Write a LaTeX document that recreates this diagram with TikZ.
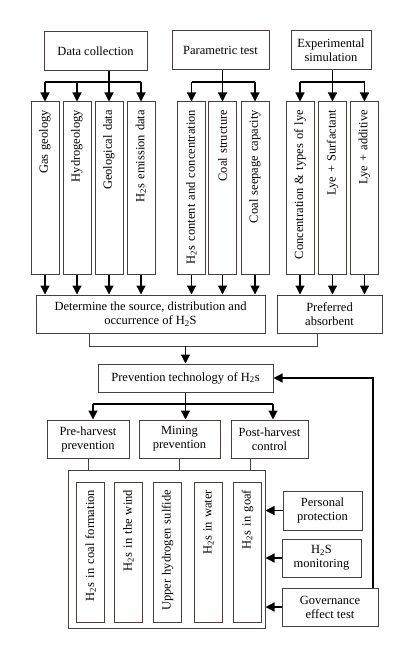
\documentclass[tikz,border=0pt]{standalone}
\usepackage{fontspec}
\setmainfont{Liberation Serif}
\usetikzlibrary{arrows.meta, calc}
\definecolor{boxgray}{RGB}{72,64,62}
\tikzset{
    box/.style={draw=boxgray, line width=1pt, align=center, inner sep=2pt,
          font=\fontsize{12.5}{14}\selectfont},
    tallbox/.style={box, rotate=90, minimum height=28pt, inner xsep=8pt,
          text width=#1, align=right},
    arr/.style={-{Triangle[width=9pt,length=9pt]}, line width=1.2pt},
    link/.style={line width=1.2pt},
}

\begin{document}
\begin{tikzpicture}[x=1pt, y=-1pt]
    \useasboundingbox (0,0) rectangle (414,660);

    % top row
    \node[box, minimum width=103pt, minimum height=39pt] (datacol) at (95.5,51) {Data collection};
    \node[box, minimum width=97pt, minimum height=39pt] (paratest) at (220.5,50.5) {Parametric test};
    \node[box, minimum width=80pt, minimum height=39pt] (expsim) at (331,50.5) {Experimental\\simulation};

    \node[tallbox=156pt] (gasgeo) at (45,188) {Gas geology};
    \node[tallbox=156pt] (hydro) at (77,188) {Hydrogeology};
    \node[tallbox=156pt] (geodata) at (109,188) {Geological data};
    \node[tallbox=156pt] (emisdata) at (141,188) {H\textsubscript{2}s emission data};
    \node[tallbox=156pt] (content) at (191.5,188) {H\textsubscript{2}s content and concentration};
    \node[tallbox=156pt] (coalstr) at (222.5,188) {Coal structure};
    \node[tallbox=156pt] (seepage) at (255,188) {Coal seepage capacity};
    \node[tallbox=156pt] (lyetype) at (300,188) {Concentration \& types of lye};
    \node[tallbox=156pt] (lyesurf) at (332.5,188) {Lye + Surfactant};
    \node[tallbox=156pt] (lyeadd) at (364.5,188) {Lye + additive};

    \node[box, minimum width=229pt, minimum height=38pt] (determ) at (150.5,314)
        {Determine the source, distribution and\\occurrence of H\textsubscript{2}S};
    \node[box, minimum width=105pt, minimum height=38pt] (prefab) at (329.5,314) {Preferred\\absorbent};

    \node[box, minimum width=175pt, minimum height=28pt] (prevtech) at (185.5,378)
        {Prevention technology of H\textsubscript{2}s};

    % prevention row
    \node[box, minimum width=82pt, minimum height=38pt] (preharv) at (88,439) {Pre-harvest\\prevention};
    \node[box, minimum width=81pt, minimum height=38pt] (mining) at (179.5,439) {Mining\\prevention};
    \node[box, minimum width=77pt, minimum height=38pt] (postharv) at (269.5,439) {Post-harvest\\control};

    \node[box, minimum width=197pt, minimum height=158pt] (bigbox) at (166.5,549) {};
    \node[tallbox=124pt] (coalform) at (90.5,552) {H\textsubscript{2}s in coal formation};
    \node[tallbox=124pt] (wind) at (128.5,552) {H\textsubscript{2}s in the wind};
    \node[tallbox=124pt] (upper) at (167.5,552) {Upper hydrogen sulfide};
    \node[tallbox=124pt] (water) at (208.5,552) {H\textsubscript{2}s in water};
    \node[tallbox=124pt] (goaf) at (247.5,552) {H\textsubscript{2}s in goaf};

    \node[box, minimum width=79pt, minimum height=39pt] (perspro) at (322.5,510.5) {Personal\\protection};
    \node[box, minimum width=79pt, minimum height=38pt] (monitor) at (321.5,558) {H\textsubscript{2}S\\monitoring};
    \node[box, minimum width=96pt, minimum height=38pt] (govtest) at (330,607) {Governance\\effect test};

    % connectors
    \coordinate (topbus) at (0,82);
    \coordinate (mergeL) at (89,346);
    \coordinate (mergeR) at (317,346);
    \coordinate (splitL) at (93,404);
    \coordinate (splitR) at (273,404);
    \coordinate (dropR) at (250,0);
    \coordinate (fbx) at (373,0);

    \draw[link] (datacol.south -| geodata.east) -- (geodata.east |- topbus);
    \draw[link] (gasgeo.east |- topbus) -- (emisdata.east |- topbus);
    \draw[link] (paratest.south -| coalstr.east) -- (coalstr.east |- topbus);
    \draw[link] (content.east |- topbus) -- (seepage.east |- topbus);
    \draw[link] (expsim.south -| lyesurf.east) -- (lyesurf.east |- topbus);
    \draw[link] (lyetype.east |- topbus) -- (lyeadd.east |- topbus);
    \foreach \n in {gasgeo, hydro, geodata, emisdata, content, coalstr, seepage, lyetype, lyesurf, lyeadd}
        \draw[arr] (\n.east |- topbus) -- (\n.east);

    \foreach \n in {gasgeo, hydro, geodata, emisdata, content, coalstr, seepage}
        \draw[arr] (\n.west) -- (\n.west |- determ.north);
    \foreach \n in {lyetype, lyesurf, lyeadd}
        \draw[arr] (\n.west) -- (\n.west |- prefab.north);

    \draw[box] (determ.south -| mergeL) -- (mergeL) -- (mergeR) -- (prefab.south -| mergeR);
    \draw[arr] (prevtech.north |- mergeL) -- (prevtech.north);

    \draw[arr] (prevtech.south) -- (prevtech.south |- mining.north);
    \draw[link] (splitL) -- (splitR);
    \draw[arr] (splitL) -- (splitL |- preharv.north);
    \draw[arr] (splitR) -- (splitR |- postharv.north);

    \draw[box] (preharv.south) -- (preharv.south |- bigbox.north);
    \draw[box] (mining.south) -- (mining.south |- bigbox.north);
    \draw[box] (postharv.south -| dropR) -- (dropR |- bigbox.north);

    \foreach \n in {perspro, monitor, govtest}
        \draw[arr] (\n.west) -- (\n.west -| bigbox.east);
    \draw[arr] (govtest.north -| fbx) |- (prevtech.east);
\end{tikzpicture}
\end{document}
